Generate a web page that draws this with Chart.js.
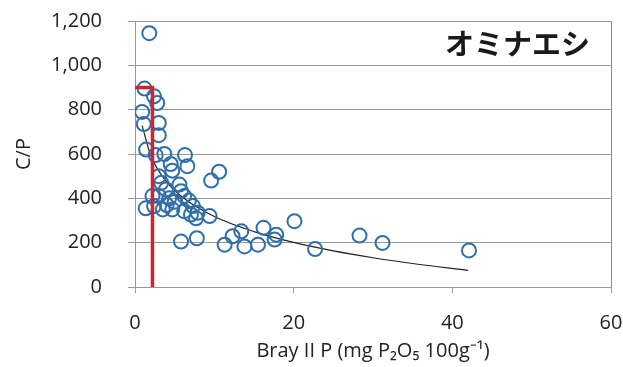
<!DOCTYPE html>
<html>
<head>
<meta charset="utf-8">
<script src="https://cdn.jsdelivr.net/npm/chart.js@4/dist/chart.umd.min.js"></script>
<style>
  body { margin: 0; background: #fff; }
  #wrap { width: 623px; height: 367px; }
</style>
</head>
<body>
<div id="wrap"><canvas id="cp-chart"></canvas></div>
<script>
// measured samples (Bray II P vs C/P)
var brayP = [1.8, 1.2, 2.4, 2.8, 0.9, 1.1, 3.0, 3.0, 1.4, 3.7, 6.3, 2.6, 4.5, 6.6, 4.7, 3.0,
    9.6, 10.6, 3.3, 5.6, 3.9, 5.8, 2.2, 3.0, 6.2, 4.3, 2.4, 1.35, 3.5, 4.7, 6.2, 7.3,
    7.9, 7.05, 7.7, 9.4, 5.0, 6.8, 4.0, 5.8, 7.8, 11.3, 12.3, 13.4, 13.8, 15.5, 16.2,
    17.8, 17.6, 20.1, 22.7, 28.3, 31.2, 42.1];
var cpRatio = [1145, 895, 860, 830, 790, 735, 740, 685, 620, 600, 595, 595, 555, 545, 525, 500,
    480, 520, 470, 462, 440, 432, 410, 410, 410, 400, 365, 355, 350, 350, 342, 365,
    335, 327, 310, 320, 385, 390, 370, 205, 220, 191, 229, 251, 183, 191, 267,
    236, 214, 297, 171, 232, 199, 165];

// log trend line
var trendX = [0.9, 2, 4, 6, 10, 15, 20, 25, 30, 35, 42];
var trendY = [728, 592, 474, 405, 318, 250, 201, 163, 132, 106, 75];

// red threshold marker
var limitX = [0, 2.2, 2.2];
var limitY = [900, 900, 0];

var xTicks = [0, 20, 40, 60];
var yTicks = [0, 200, 400, 600, 800, 1000, 1200];

function toPoints(xs, ys) {
    var pts = [];
    for (var i = 0; i < xs.length; i++) {
        pts.push({ x: xs[i], y: ys[i] });
    }
    return pts;
}

var labelFont = { family: '"Open Sans", sans-serif', size: 20 };

var speciesLabel = {
    id: 'speciesLabel',
    afterDraw: function(chart) {
        var c = chart.ctx;
        var area = chart.chartArea;
        c.save();
        c.font = 'bold 29px "Noto Sans CJK JP", sans-serif';
        c.fillStyle = '#1a1a1a';
        c.textAlign = 'right';
        c.textBaseline = 'middle';
        c.fillText('オミナエシ', area.right - 21, area.top + 23);
        c.restore();
    }
};

var ctx = document.getElementById('cp-chart');

var scatterChart = new Chart(ctx, {
    type: 'scatter',
    data: {
        datasets: [{
            data: toPoints(limitX, limitY),
            showLine: true,
            borderColor: '#d2232e',
            borderWidth: 3.5,
            pointRadius: 0,
            order: 0
        }, {
            data: toPoints(brayP, cpRatio),
            borderColor: '#2f6eab',
            backgroundColor: 'rgba(0,0,0,0)',
            borderWidth: 2,
            pointRadius: 7,
            order: 1
        }, {
            data: toPoints(trendX, trendY),
            showLine: true,
            borderColor: '#222',
            borderWidth: 1.2,
            pointRadius: 0,
            cubicInterpolationMode: 'monotone',
            order: 2
        }]
    },
    options: {
        responsive: true,
        maintainAspectRatio: false,
        animation: false,
        layout: { padding: { top: 21, right: 12, left: 8, bottom: 0 } },
        plugins: {
            legend: { display: false },
            tooltip: { enabled: false }
        },
        scales: {
            x: {
                type: 'linear',
                min: 0,
                max: 60,
                afterBuildTicks: function(scale) {
                    scale.ticks = xTicks.map(function(v) { return { value: v }; });
                },
                grid: {
                    color: function(c) { return c.tick && c.tick.value === 60 ? '#888' : 'rgba(0,0,0,0)'; },
                    tickColor: '#999',
                    tickLength: 6
                },
                border: { display: false },
                ticks: { color: '#222', font: labelFont, padding: 18 },
                title: {
                    display: true,
                    text: 'Bray II P (mg P\u2082O\u2085 100g\u207B\u00B9)',
                    color: '#222',
                    font: labelFont,
                    padding: { top: 12 }
                },
                afterFit: function(scale) {
                    scale.height = 80;
                    // labels may spill past the plot edge, like the original
                    scale.paddingLeft = 0;
                    scale.paddingRight = 0;
                }
            },
            y: {
                min: 0,
                max: 1200,
                afterBuildTicks: function(scale) {
                    scale.ticks = yTicks.map(function(v) { return { value: v }; });
                },
                grid: { color: '#999', tickColor: '#999', tickLength: 7 },
                border: { color: '#999' },
                ticks: {
                    color: '#222',
                    font: labelFont,
                    padding: 26,
                    callback: function(v) { return v.toLocaleString('en-US'); }
                },
                title: {
                    display: true,
                    text: 'C/P',
                    color: '#222',
                    font: labelFont,
                    padding: { bottom: 0 }
                },
                afterFit: function(scale) {
                    scale.width = 127;
                    scale.paddingTop = 0;
                    scale.paddingBottom = 0;
                }
            }
        }
    },
    plugins: [speciesLabel]
});
</script>
</body>
</html>
